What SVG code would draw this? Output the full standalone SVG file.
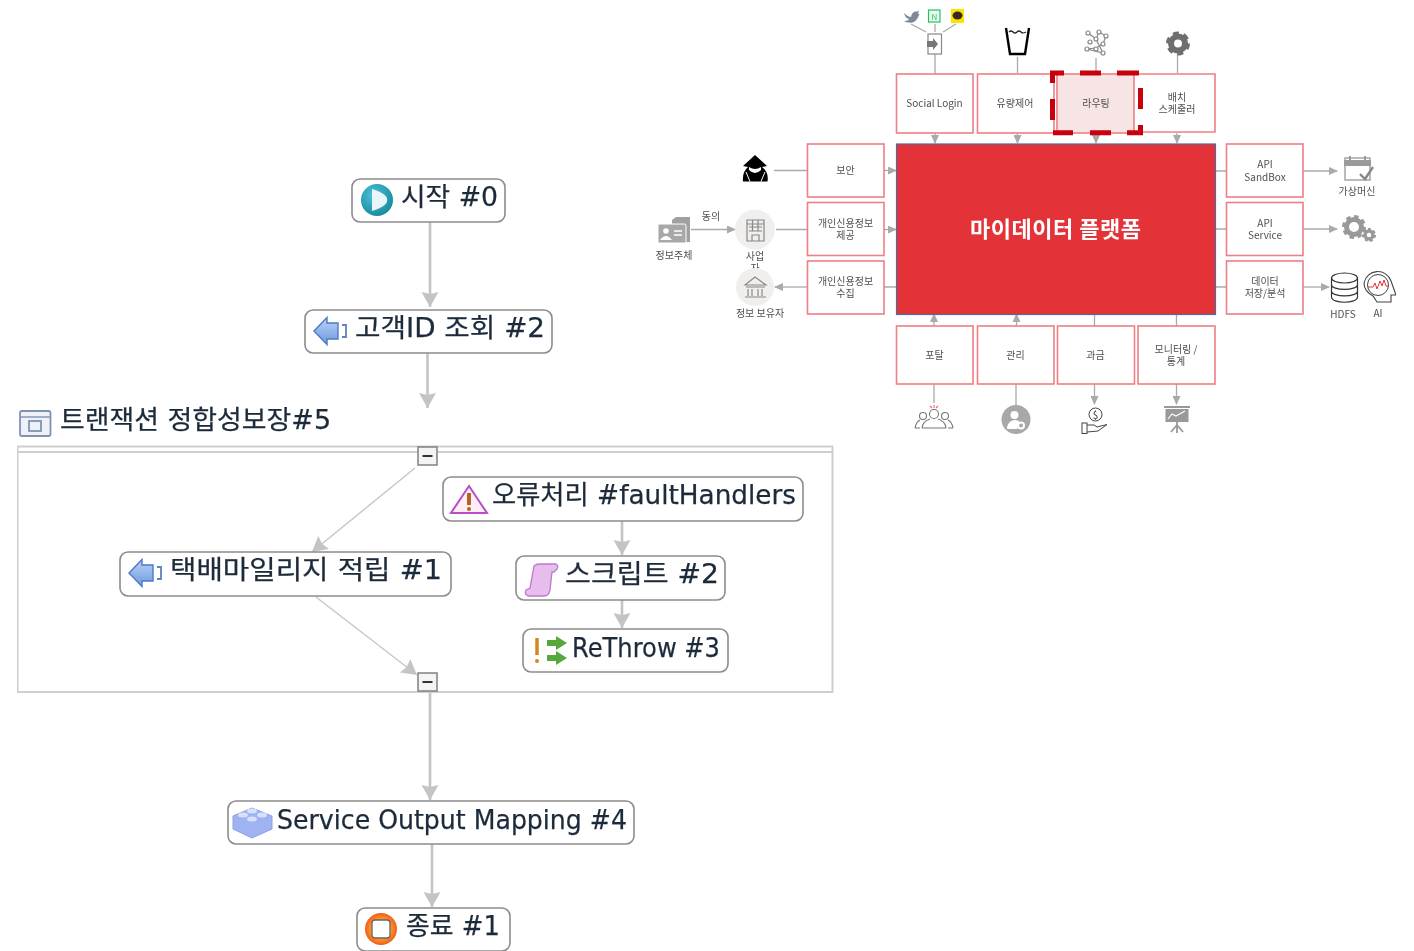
<svg xmlns="http://www.w3.org/2000/svg" width="1414" height="951" viewBox="0 0 1414 951">
<style>
text{font-family:"Noto Sans CJK KR","Noto Sans",sans-serif}
.b{fill:#fff;stroke:#ee7f85;stroke-width:1.6}
.t{font-size:10px;fill:#4f4f4f;text-anchor:middle;dominant-baseline:central}
.c{fill:none;stroke:#aaa;stroke-width:1.3}
.n{fill:#fff;stroke:#8c8c8c;stroke-width:1.6}
.l{font-size:26px;fill:#1c2b3a;stroke:#1c2b3a;stroke-width:.25;dominant-baseline:central;font-family:"DejaVu Sans","Noto Sans CJK KR",sans-serif}
.f{fill:none;stroke:#c4c4c4;stroke-width:2.6}
.i{fill:none;stroke:#888;stroke-width:1.2}
.g{fill:#808080}
</style>
<defs>
<marker id="a" markerWidth="9" markerHeight="8" refX="8" refY="4" orient="auto" markerUnits="userSpaceOnUse"><path d="M0 0L9 4L0 8z" fill="#aaa"/></marker>
<marker id="fa" markerWidth="18" markerHeight="18" refX="16" refY="9" orient="auto" markerUnits="userSpaceOnUse"><path d="M1 0.500L16 9L1 17.500L3 9z" fill="#c4c4c4"/></marker>
<radialGradient id="teal" cx=".4" cy=".35" r=".8"><stop offset="0" stop-color="#4ec3dc"/><stop offset="1" stop-color="#0e7f8f"/></radialGradient>
<radialGradient id="or" cx=".5" cy=".5" r=".6"><stop offset=".5" stop-color="#ff9a2c"/><stop offset="1" stop-color="#e8400e"/></radialGradient>
<linearGradient id="bl" x1="0" y1="0" x2="0" y2="1"><stop offset="0" stop-color="#b8d2f6"/><stop offset="1" stop-color="#6e9ae0"/></linearGradient>
<g id="leftarrow"><path d="M0 14L13 0.500V6H24V22H13V27.500z" fill="url(#bl)" stroke="#4f78c8" stroke-width="1.400"/><path d="M28 8H32V20H28" fill="none" stroke="#5f82c0" stroke-width="1.800"/></g>
<filter id="soft" x="0" y="0" width="100%" height="100%"><feGaussianBlur stdDeviation="0.45"/></filter>
</defs>
<rect width="1414" height="951" fill="#fff"/>
<g filter="url(#soft)">
<g id="connectors">
<path class="f" d="M430 222V307" marker-end="url(#fa)"/>
<path class="f" d="M427.500 353V408" marker-end="url(#fa)"/>
<path class="f" d="M430 691V800" marker-end="url(#fa)"/>
<path class="f" d="M432 844V907" marker-end="url(#fa)"/>
<path class="f" d="M622 521V555" marker-end="url(#fa)"/>
<path class="f" d="M622 600V628" marker-end="url(#fa)"/>
<path d="M415 468L312 552" fill="none" stroke="#c8c8c8" stroke-width="1.500" marker-end="url(#fa)"/>
<path d="M316 597L417 675" fill="none" stroke="#c8c8c8" stroke-width="1.500" marker-end="url(#fa)"/>
<path class="c" d="M935 54V74M1017.500 57V73M1096 58V71M1177.500 54V73"/>
<path class="c" d="M911 24L926 32M935 24V32M943 32L956 24"/>
<path class="c" d="M935 133V143" marker-end="url(#a)"/>
<path class="c" d="M1017.500 133V143" marker-end="url(#a)"/>
<path class="c" d="M1096 133V143" marker-end="url(#a)"/>
<path class="c" d="M1177 133V143" marker-end="url(#a)"/>
<path class="c" d="M774 170.500H807M776 229.500H807M884 287H896M1215 171H1226M1215 229H1226M1215 287H1226"/>
<path class="c" d="M884 170.500H896" marker-end="url(#a)"/>
<path class="c" d="M884 229.500H896" marker-end="url(#a)"/>
<path class="c" d="M691 229.500H735" marker-end="url(#a)"/>
<path class="c" d="M807 287H775" marker-end="url(#a)"/>
<path class="c" d="M1303 171H1337" marker-end="url(#a)"/>
<path class="c" d="M1303 229H1337" marker-end="url(#a)"/>
<path class="c" d="M1303 287H1329" marker-end="url(#a)"/>
<path class="c" d="M934 326V314" marker-end="url(#a)"/>
<path class="c" d="M1016.500 326V314" marker-end="url(#a)"/>
<path class="c" d="M1094.500 314V326M1176.500 314V326M934 384V403M1016 384V405"/>
<path class="c" d="M1094.500 384V404" marker-end="url(#a)"/>
<path class="c" d="M1176.500 384V404" marker-end="url(#a)"/>
</g>

<g id="start"><rect class="n" x="352" y="179" width="153" height="43" rx="8"/><circle cx="377" cy="200" r="16" fill="url(#teal)"/><path d="M372 189Q388 194 387 200Q388 206 372 211z" fill="#e8f6fa"/><text class="l" x="401" y="197" textLength="97" lengthAdjust="spacingAndGlyphs">시작 #0</text></g>
<g id="lookup"><rect class="n" x="305" y="310" width="247" height="43" rx="8"/><use href="#leftarrow" x="314" y="317"/><text class="l" x="355" y="328" textLength="190" lengthAdjust="spacingAndGlyphs">고객ID 조회 #2</text></g>
<g id="scope"><rect x="20" y="411" width="30.500" height="25" rx="2" fill="#eef2f8" stroke="#7f93b2" stroke-width="1.800"/><path d="M20 417H50" stroke="#7f93b2" stroke-width="1.400"/><rect x="29" y="421" width="12" height="10" fill="none" stroke="#7f93b2" stroke-width="1.800"/><text class="l" x="60" y="420" textLength="271" lengthAdjust="spacingAndGlyphs" fill="#222">트랜잭션 정합성보장#5</text>
<path d="M17.500 446.500H832.500V692H17.500z" fill="none" stroke="#cfcfcf" stroke-width="2"/><path d="M17.500 452H832.500" stroke="#cfcfcf" stroke-width="2"/>
<rect x="418" y="447" width="19" height="18" fill="#f4f4f4" stroke="#808080" stroke-width="1.500"/><path d="M422.500 456H432.500" stroke="#333" stroke-width="2"/>
<rect x="418" y="673" width="19" height="18" fill="#f4f4f4" stroke="#808080" stroke-width="1.500"/><path d="M422.500 682H432.500" stroke="#333" stroke-width="2"/></g>
<g id="delivery"><rect class="n" x="120" y="552" width="331" height="44" rx="8"/><use href="#leftarrow" x="129" y="559"/><text class="l" x="170" y="570" textLength="272" lengthAdjust="spacingAndGlyphs">택배마일리지 적립 #1</text></g>
<g id="fault"><rect class="n" x="443" y="477" width="360" height="44" rx="8"/><path d="M469 486L487 513H451z" fill="#fdeef8" stroke="#b950c4" stroke-width="2"/><path d="M469 493V505" stroke="#b8641c" stroke-width="4"/><circle cx="469" cy="509" r="2" fill="#b8641c"/><text class="l" x="492" y="495" textLength="304" lengthAdjust="spacingAndGlyphs">오류처리 #faultHandlers</text></g>
<g id="script"><rect class="n" x="516" y="556" width="209" height="44" rx="8"/><path d="M534 566Q536 564 540 564H556Q559 566 557 569L554 572H552L550 590Q549 596 544 596H528Q524 594 526 590L530 588z" fill="#e8bcec" stroke="#b97cc8" stroke-width="1.300"/><text class="l" x="565" y="574" textLength="154" lengthAdjust="spacingAndGlyphs">스크립트 #2</text></g>
<g id="rethrow"><rect class="n" x="523" y="629" width="205" height="43" rx="8"/><path d="M537 638V655" stroke="#d08a1c" stroke-width="3.500"/><circle cx="537" cy="661" r="2" fill="#d08a1c"/><path d="M547 640H556V636L567 643L556 650V646H547zM547 655H556V651L567 658L556 665V661H547z" fill="#56a83c"/><text class="l" x="572" y="648" textLength="148" lengthAdjust="spacingAndGlyphs">ReThrow #3</text></g>
<g id="output"><rect class="n" x="228" y="801" width="406" height="43" rx="8"/><path d="M233 816L252 808L272 816V829L252 838L233 829z" fill="#9fb2f2" stroke="#8ca0e4"/><ellipse cx="243" cy="815" rx="5" ry="2.500" fill="#d8e0fc"/><ellipse cx="252" cy="811" rx="5" ry="2.500" fill="#d8e0fc"/><ellipse cx="252" cy="819" rx="5" ry="2.500" fill="#d8e0fc"/><ellipse cx="262" cy="815" rx="5" ry="2.500" fill="#d8e0fc"/><text class="l" x="277" y="820" textLength="350" lengthAdjust="spacingAndGlyphs">Service Output Mapping #4</text></g>
<g id="end"><rect class="n" x="357" y="908" width="153" height="43" rx="8"/><circle cx="381" cy="929" r="16" fill="url(#or)"/><rect x="372" y="920" width="18" height="18" rx="3" fill="#fff" stroke="#666" stroke-width="1.300"/><text class="l" x="406" y="926" textLength="94" lengthAdjust="spacingAndGlyphs">종료 #1</text></g>

<g id="platform"><rect x="896.500" y="144" width="319" height="170.500" fill="#e33138" stroke="#4f6c9c" stroke-width="1.200"/><text x="1055.500" y="227" text-anchor="middle" dominant-baseline="central" font-size="22" font-weight="700" fill="#fff" textLength="171">마이데이터 플랫폼</text></g>
<g id="social"><rect class="b" x="896.500" y="74" width="76.500" height="59"/><text class="t" x="934.500" y="102">Social Login</text></g>
<g id="traffic"><rect class="b" x="977.500" y="74" width="76.500" height="59"/><text class="t" x="1015" y="102">유량제어</text></g>
<g id="routing"><rect x="1057" y="74" width="77" height="59" fill="#f7e4e4" stroke="#ee7f85" stroke-width="1.600"/><text class="t" x="1096" y="102">라우팅</text></g>
<g id="batch"><path class="b" d="M1138 74H1215V132H1138"/><text class="t" x="1177" y="96">배치</text><text class="t" x="1177" y="108">스케줄러</text></g>
<path id="routing-highlight" d="M1050 73H1064M1080 73H1101M1117 73H1139M1052.500 71V83M1052.500 99V120M1053 132.700H1073M1090 132.700H1111M1127 132.700H1143M1140.500 88V109M1140.500 125V135" fill="none" stroke="#c8000a" stroke-width="5"/>
<g id="security"><rect class="b" x="807.500" y="144" width="76.500" height="53"/><text class="t" x="845.500" y="169.500">보안</text></g>
<g id="provide"><rect class="b" x="807.500" y="202.500" width="76.500" height="53"/><text class="t" x="845.500" y="222">개인신용정보</text><text class="t" x="845.500" y="234.500">제공</text></g>
<g id="collect"><rect class="b" x="807.500" y="261" width="76.500" height="53"/><text class="t" x="845.500" y="280">개인신용정보</text><text class="t" x="845.500" y="292.500">수집</text></g>
<g id="sandbox"><rect class="b" x="1226.500" y="144" width="76.500" height="53"/><text class="t" x="1265" y="163.500">API</text><text class="t" x="1265" y="176">SandBox</text></g>
<g id="service"><rect class="b" x="1226.500" y="202.500" width="76.500" height="53"/><text class="t" x="1265" y="222">API</text><text class="t" x="1265" y="234.500">Service</text></g>
<g id="storage"><rect class="b" x="1226.500" y="261" width="76.500" height="53"/><text class="t" x="1265" y="280">데이터</text><text class="t" x="1265" y="292.500">저장/분석</text></g>
<g id="portal"><rect class="b" x="896.500" y="326" width="76.500" height="58"/><text class="t" x="934.500" y="354">포탈</text></g>
<g id="manage"><rect class="b" x="977.500" y="326" width="76.500" height="58"/><text class="t" x="1015.500" y="354">관리</text></g>
<g id="billing"><rect class="b" x="1057.500" y="326" width="77" height="58"/><text class="t" x="1095.500" y="354">과금</text></g>
<g id="monitor"><rect class="b" x="1138" y="326" width="77" height="58"/><text class="t" x="1176" y="348">모니터링 /</text><text class="t" x="1176" y="360.500">통계</text></g>

<g id="subject"><path d="M672 220L676 217H690V242H672z" fill="#a0a0a0"/><rect x="658" y="224" width="28" height="19" rx="1.500" fill="#a8a8a8" stroke="#fff"/><circle cx="666" cy="231" r="2.800" fill="#fff"/><path d="M660 240Q666 232 672 240z" fill="#fff"/><path d="M674 231H682M674 235H682" stroke="#fff" stroke-width="1.400"/><text class="t" x="674" y="254">정보주체</text><text class="t" x="711" y="215.500">동의</text></g>
<g id="provider"><text class="t" x="755" y="255">사업</text><text class="t" x="755" y="267.500">자</text><circle cx="755" cy="229.500" r="20" fill="#f0efee"/><path d="M747 220H764V241H747zM747 224H764M749 227H762M749 231H762M752.500 220V231M758 220V231" class="i"/><path d="M752 241V235H759V241" class="i"/></g>
<g id="holder"><circle cx="755" cy="287" r="19" fill="#f0efee"/><path d="M745 285L755 277L766 285zM746 287H765M748 289V296M752 289V296M758 289V296M762 289V296M745 297H766" class="i"/><text class="t" x="760" y="312.500">정보 보유자</text></g>
<g id="hacker"><path d="M755 155L767 166L762 167Q769 172 767.500 181.500H743Q742 172 748 167L743 166z" fill="#000"/><path d="M749 167Q755 171 761 167V170Q755 176 749 170z" fill="#fff"/><path d="M746 172L750 181.500M765 172L761 181.500" stroke="#fff" stroke-width="1"/></g>
<g id="twitter"><path d="M904 13Q908 17 911 17Q912 11 917 11.500L919 11L918 14L919.500 14Q916 24 909 22.500Q906 22.500 904 21Q908 21 909 19Q905 18 904 13z" fill="#7d8a96"/></g>
<rect id="naver" x="928.500" y="10" width="11.500" height="12" fill="#eefbf0" stroke="#1fc35f" stroke-width="1.200"/>
<text x="934.300" y="16" text-anchor="middle" dominant-baseline="central" font-size="8" fill="#1fc35f">N</text>
<g id="kakao"><rect x="951" y="9" width="13" height="14" fill="#fde300"/><ellipse cx="957.500" cy="15.500" rx="5" ry="4" fill="#3a2a1a"/></g>
<g id="door"><rect x="928" y="34" width="13.500" height="20" fill="#fff" stroke="#888" stroke-width="1.200"/><path d="M927 41H933V38L938 44L933 50V47H927z" fill="#777"/></g>
<g id="cup"><path d="M1006 28L1010 54H1025L1029 28" fill="none" stroke="#000" stroke-width="2.400"/><path d="M1009 32Q1011 30 1013 32T1017 32T1021 32T1026 32" fill="none" stroke="#222" stroke-width="1.200"/></g>
<g id="network"><path d="M1088 33L1096 39L1099 32L1106 36L1103 44L1096 48L1087 49L1103 53L1096 39" class="i"/><g fill="#fff" stroke="#888" stroke-width="1.200"><circle cx="1088" cy="33" r="2"/><circle cx="1099" cy="32" r="2"/><circle cx="1106" cy="36" r="2"/><circle cx="1096" cy="39" r="2"/><circle cx="1090" cy="42" r="2"/><circle cx="1103" cy="44" r="2"/><circle cx="1087" cy="49" r="2"/><circle cx="1096" cy="49" r="2"/><circle cx="1103" cy="53" r="2"/></g></g>
<g id="gear"><circle cx="1178" cy="43.500" r="7" fill="none" stroke="#6e6e6e" stroke-width="6"/><circle cx="1178" cy="43.500" r="10.500" fill="none" stroke="#6e6e6e" stroke-width="3" stroke-dasharray="6 5"/></g>
<g id="vm"><rect x="1345" y="158" width="25" height="22" fill="#fff" stroke="#aaa" stroke-width="1.600"/><rect x="1344" y="160" width="27" height="6" fill="#9a9a9a"/><path d="M1350 156V160M1365 156V160" stroke="#9a9a9a" stroke-width="2"/><path d="M1360 174L1365 179L1373 167" fill="none" stroke="#888" stroke-width="2.400"/><text class="t" x="1357" y="190.500">가상머신</text></g>
<g id="gears"><circle cx="1354" cy="227" r="7.500" fill="none" stroke="#999" stroke-width="5"/><circle cx="1354" cy="227" r="10.500" fill="none" stroke="#999" stroke-width="3" stroke-dasharray="4.500 3.700"/><circle cx="1369" cy="235" r="4" fill="none" stroke="#999" stroke-width="3.500"/><circle cx="1369" cy="235" r="6" fill="none" stroke="#999" stroke-width="2" stroke-dasharray="3 2.300"/></g>
<g id="hdfs" fill="none" stroke="#333" stroke-width="1.200"><ellipse cx="1344.500" cy="278" rx="13" ry="5"/><path d="M1331.500 278V297C1331.500 304 1357.500 304 1357.500 297V278M1331.500 284.500C1331.500 291 1357.500 291 1357.500 284.500M1331.500 291C1331.500 297.500 1357.500 297.500 1357.500 291"/></g>
<text class="t" x="1343" y="313.500">HDFS</text>
<g id="ai"><path d="M1373 296Q1364 291 1364 283A14 14 0 0 1 1391 281L1396 295H1391V302H1377z" fill="#fff" stroke="#444" stroke-width="1.100"/><circle cx="1378" cy="285" r="10.500" fill="#fff" stroke="#444"/><path d="M1368 287H1373L1375 283L1377 289L1380 281L1382 286L1384 280L1386 286H1389" fill="none" stroke="#e2333a"/></g>
<text class="t" x="1378" y="312.500">AI</text>
<g id="people" fill="none" stroke="#777" stroke-width="1.100"><circle cx="934" cy="414" r="4.500"/><path d="M922 428Q923 421 930 419M946 428Q945 421 938 419M922 428H946"/><circle cx="923" cy="416" r="3.500"/><path d="M915 428Q916 422 920 420M915 428H920"/><circle cx="945" cy="416" r="3.500"/><path d="M953 428Q952 422 948 420M948 428H953"/><path d="M930 406L932 408M934 405V408M938 406L936 408" stroke="#e86a70"/></g>
<g id="admin"><circle cx="1016" cy="419.500" r="14.500" fill="#a8a8a8"/><circle cx="1014.500" cy="415" r="4" fill="#fff"/><path d="M1007 427Q1009 420 1015 420Q1019 420 1020 423L1017 429H1007z" fill="#fff"/><circle cx="1021" cy="425.500" r="3" fill="none" stroke="#fff" stroke-width="2"/></g>
<g id="money"><circle cx="1095.500" cy="414.500" r="6.500" fill="#fff" stroke="#444"/><text x="1095.500" y="414" text-anchor="middle" dominant-baseline="central" font-size="10" fill="#333">$</text><rect x="1082" y="423" width="5" height="10.500" fill="#fff" stroke="#444"/><path d="M1087 425H1094L1097 427L1107 424.500L1098 431L1087 432" fill="none" stroke="#444"/></g>
<g id="chart"><rect x="1164" y="406" width="26" height="2" fill="#999"/><rect x="1165.500" y="409" width="23" height="13" fill="#999"/><path d="M1168 419L1172 414L1176 416L1185 411" fill="none" stroke="#fff" stroke-width="1.200"/><path d="M1177 422V433M1177 425L1171 432M1177 425L1183 432" stroke="#999" stroke-width="1.800" fill="none"/></g>
</g>
</svg>
